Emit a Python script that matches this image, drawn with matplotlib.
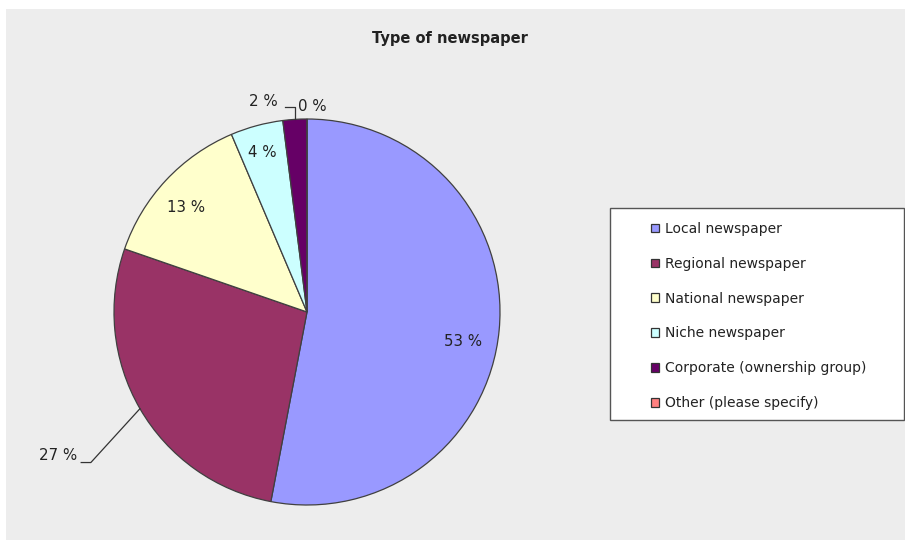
import numpy as np
import matplotlib
matplotlib.use("Agg")
import matplotlib.pyplot as plt
from matplotlib.patches import Rectangle

# survey answers, share of respondents (%)
categories = ["Local newspaper", "Regional newspaper", "National newspaper",
              "Niche newspaper", "Corporate (ownership group)", "Other (please specify)"]
shares = [53.0, 27.3, 13.3, 4.4, 2.0, 0.0]
pct_labels = ["53 %", "27 %", "13 %", "4 %", "2 %", "0 %"]
colors = ["#9999FF", "#993366", "#FFFFCC", "#CCFFFF", "#660066", "#FF8080"]

# label placement (pie radius units) and whether a leader line is drawn
label_pos = [(0.81, -0.155), (-1.29, -0.745), (-0.627, 0.544),
             (-0.233, 0.829), (-0.228, 1.09), (0.03, 1.065)]
leaders = [False, True, False, False, True, False]

W, H = 905, 540
fig = plt.figure(figsize=(W / 100, H / 100), dpi=100)
fig.patch.set_facecolor("white")
fig.patches.append(Rectangle((6 / W, 0), 1, 1 - 9 / H, transform=fig.transFigure,
                             facecolor="#EDEDED", edgecolor="none", zorder=-10))

fig.text(450 / W, 1 - 38 / H, "Type of newspaper", ha="center", va="center",
         fontsize=10.5, fontweight="bold", color="#222222")

# pie centre (307, 312) px, radius 193 px
cx, cy, r = 307, 312, 193
ax = fig.add_axes([(cx - r) / W, (H - cy - r) / H, 2 * r / W, 2 * r / H])
ax.axis("off")

wedges, _ = ax.pie(shares, colors=colors, startangle=90, counterclock=False,
                   radius=1, wedgeprops=dict(edgecolor="#404040", linewidth=0.9))
ax.set_xlim(-1, 1)
ax.set_ylim(-1, 1)
ax.set_aspect("equal")

for w, lab, (lx, ly), lead in zip(wedges, pct_labels, label_pos, leaders):
    ax.text(lx, ly, lab, ha="center", va="center", fontsize=10.8,
            color="#222222", clip_on=False)
    if lead:
        mid = np.deg2rad((w.theta1 + w.theta2) / 2)
        ex, ey = np.cos(mid), np.sin(mid)
        if ey < 0:
            # down-left to a short horizontal tail ending next to the label
            kx, ky = lx + 0.17, ly - 0.035
            ax.plot([ex, kx, kx - 0.05], [ey, ky, ky], color="#333333",
                    lw=0.9, clip_on=False)
        else:
            # straight up from the slice then left towards the label
            ky = ly - 0.028
            ax.plot([ex, ex, ex - 0.05], [ey, ky, ky], color="#333333",
                    lw=0.9, clip_on=False)

# legend box
fig.patches.append(Rectangle((610 / W, 1 - 420 / H), 1 - 610 / W - 0.0015, 212 / H,
                             transform=fig.transFigure, facecolor="white",
                             edgecolor="#555555", linewidth=1.0, zorder=5))
leg = fig.legend(wedges, categories, loc="upper left",
                 bbox_to_anchor=(644 / W, 1 - 215 / H), frameon=False,
                 fontsize=10, labelspacing=1.5, handlelength=0.58,
                 handleheight=0.58, handletextpad=0.4, borderpad=0)
leg.set_zorder(6)
for t in leg.get_texts():
    t.set_color("#222222")
for hdl in leg.legend_handles:
    hdl.set_edgecolor("#333333")
    hdl.set_linewidth(0.9)

fig.savefig("out.png", dpi=100)
